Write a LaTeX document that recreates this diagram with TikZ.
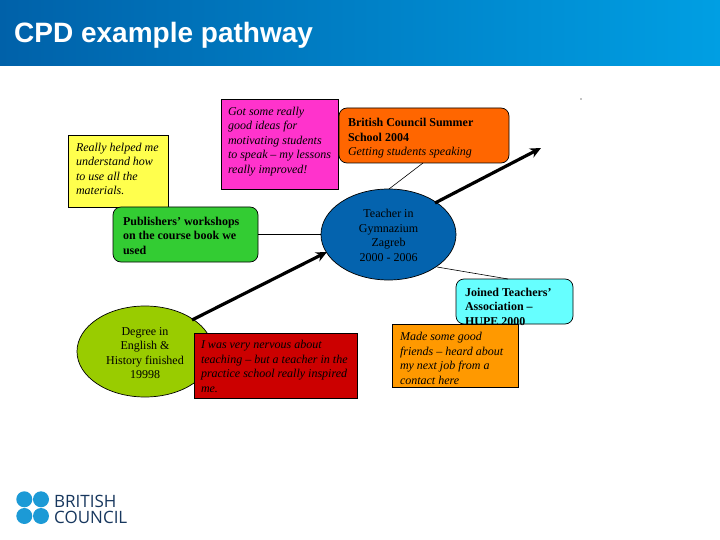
\documentclass[tikz,border=0pt]{standalone}
\usepackage{fontspec}
\setmainfont{Liberation Serif}
\newfontfamily\arialfont{Liberation Sans}
\newfontfamily\logofont{Open Sans}
\usetikzlibrary{arrows.meta,shapes.geometric}
\definecolor{hdrL}{HTML}{0061A9}
\definecolor{hdrR}{HTML}{009FE3}
\definecolor{cYellow}{HTML}{FFFF4D}
\definecolor{cMagenta}{HTML}{FF33CC}
\definecolor{cGreen}{HTML}{33CC33}
\definecolor{cOrange}{HTML}{FF6600}
\definecolor{cBlue}{HTML}{0463AE}
\definecolor{cCyan}{HTML}{66FFFF}
\definecolor{cAmber}{HTML}{FF9900}
\definecolor{cLime}{HTML}{99CC00}
\definecolor{cRed}{HTML}{CC0000}
\definecolor{logoBlue}{HTML}{1C9AD6}
\definecolor{logoNavy}{HTML}{17375E}
% text blocks that do not influence the size of their shape
\newcommand{\blocktext}[3]{\makebox[0pt]{\raisebox{#1}[0pt][0pt]{\parbox[c]{#2}{\raggedright\fontsize{12}{14.5}\selectfont #3}}}}
\newcommand{\ovaltext}[2]{\makebox[0pt]{\raisebox{#1}[0pt][0pt]{\parbox[c]{130pt}{\centering\fontsize{12}{14.5}\selectfont #2}}}}
\tikzset{
  boxbase/.style={draw=black,line width=0.7pt,inner sep=0pt,anchor=center},
  sqbox/.style={boxbase,rectangle},
  rdbox/.style={boxbase,rectangle,rounded corners=8pt},
  oval/.style={boxbase,ellipse},
  thinlink/.style={draw=black,line width=0.6pt},
  pathway/.style={draw=black,line width=3.2pt,-{Stealth[length=11pt,width=10pt]}},
  logodot/.style={circle,fill=logoBlue,inner sep=0pt,minimum size=16pt},
  logoword/.style={text=logoNavy,inner sep=0pt,anchor=west,font=\logofont\fontsize{17}{17}\selectfont}
}
\begin{document}
\begin{tikzpicture}[x=1pt,y=-1pt]
\useasboundingbox (0,0) rectangle (720,540);
\fill[white] (0,0) rectangle (720,540);
\shade[left color=hdrL,right color=hdrR] (0,0) rectangle (720,66);
\node[text=white,inner sep=0pt,anchor=west,font=\arialfont\bfseries\fontsize{28}{28}\selectfont] (title) at (14,35) {CPD example pathway};

\node[oval,fill=cBlue,minimum width=135pt,minimum height=91pt] (teacher) at (388.5,234.5) {\ovaltext{-3.5pt}{Teacher in\\Gymnazium\\Zagreb\\2000 - 2006}};
\node[oval,fill=cLime,minimum width=136pt,minimum height=91pt] (degree) at (145,351.5) {\ovaltext{-4pt}{Degree in\\English \&\\History finished\\19998}};

\node[sqbox,fill=cYellow,minimum width=100pt,minimum height=72pt] (helped) at (118,171) {\blocktext{-0.5pt}{84pt}{\itshape Really helped me\\understand how\\to use all the\\materials.}};
\node[sqbox,fill=cMagenta,minimum width=117pt,minimum height=90pt] (ideas) at (279.5,144) {\blocktext{0pt}{103pt}{\itshape Got some really\\good ideas for\\motivating students\\to speak -- my lessons\\really improved!}};
\node[rdbox,fill=cGreen,minimum width=145pt,minimum height=55pt] (publishers) at (185.5,234.5) {\blocktext{-3.5pt}{125pt}{\bfseries Publishers' workshops\\on the course book we\\used}};
\node[rdbox,fill=cOrange,minimum width=170pt,minimum height=55pt] (summer) at (424,135.5) {\blocktext{-5.5pt}{152pt}{{\bfseries British Council Summer\\School 2004}\\\itshape Getting students speaking}};
\node[rdbox,fill=cCyan,minimum width=117pt,minimum height=45pt] (joined) at (514.5,301.5) {\blocktext{-7.5pt}{99pt}{\bfseries Joined Teachers'\\Association --\\HUPE 2000}};
\node[sqbox,fill=cAmber,minimum width=126pt,minimum height=63pt] (friends) at (455,355.5) {\blocktext{-5.5pt}{110pt}{\itshape Made some good\\friends -- heard about\\my next job from a\\contact here}};
\node[sqbox,fill=cRed,minimum width=163pt,minimum height=65pt] (nervous) at (275.5,365.5) {\blocktext{-3.5pt}{149pt}{\itshape I was very nervous about\\teaching -- but a teacher in the\\practice school really inspired\\me.}};

\draw[thinlink] (publishers.east) -- (teacher.west);
\coordinate (summerfoot) at (423,163);
\coordinate (teachertop) at (389,189);
\draw[thinlink] (summerfoot) -- (teachertop);
\coordinate (teacherlow) at (437,267);
\coordinate (joinedtop) at (508,279);
\draw[thinlink] (teacherlow) -- (joinedtop);

\coordinate (degreeout) at (192,320);
\coordinate (teacherin) at (327,252);
\coordinate (teacherout) at (435,203);
\coordinate (future) at (541,148);
\draw[pathway] (degreeout) -- (teacherin);
\draw[pathway] (teacherout) -- (future);
\fill[black] (581,99) circle (0.6pt);

\node[logodot] (d1) at (24.3,499.3) {};
\node[logodot] (d2) at (41,499.3) {};
\node[logodot] (d3) at (24.3,516) {};
\node[logodot] (d4) at (41,516) {};
\node[logoword] (w1) at (54,501.5) {BRITISH};
\node[logoword] (w2) at (54,517.5) {COUNCIL};
\end{tikzpicture}
\end{document}
